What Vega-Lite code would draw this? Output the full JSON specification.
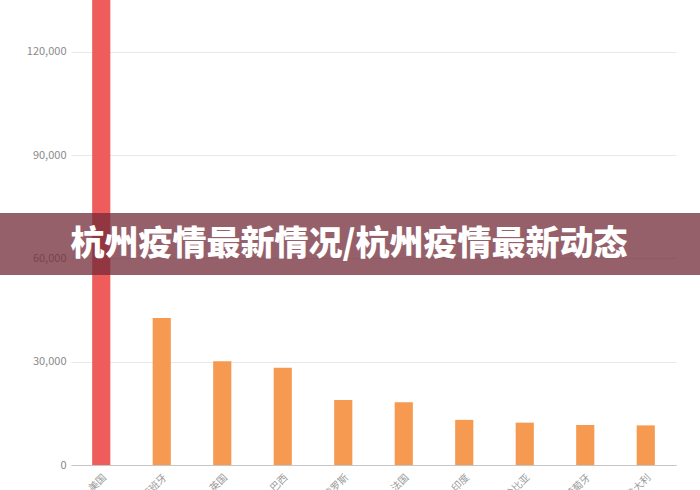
{
  "$schema": "https://vega.github.io/schema/vega-lite/v6.json",
  "autosize": "none",
  "width": 605,
  "height": 465,
  "padding": {"left": 71, "top": 0, "right": 24, "bottom": 25},
  "background": "white",
  "config": {
    "view": {"stroke": null},
    "axis": {"labelFont": "Noto Sans CJK SC", "labelColor": "#8a8a8a", "labelFontSize": 11}
  },
  "layer": [
    {
      "data": {
        "values": [
          {"country": "美国", "cases": 142000, "top": "yes"},
          {"country": "西班牙", "cases": 42700, "top": "no"},
          {"country": "英国", "cases": 30100, "top": "no"},
          {"country": "巴西", "cases": 28200, "top": "no"},
          {"country": "俄罗斯", "cases": 18900, "top": "no"},
          {"country": "法国", "cases": 18200, "top": "no"},
          {"country": "印度", "cases": 13100, "top": "no"},
          {"country": "哥伦比亚", "cases": 12300, "top": "no"},
          {"country": "葡萄牙", "cases": 11600, "top": "no"},
          {"country": "意大利", "cases": 11500, "top": "no"}
        ]
      },
      "mark": {"type": "bar", "clip": true},
      "encoding": {
        "x": {
          "field": "country",
          "type": "nominal",
          "sort": null,
          "scale": {"paddingInner": 0.7, "paddingOuter": 0.35},
          "axis": {
            "title": null,
            "labelAngle": -45,
            "ticks": false,
            "domainColor": "#c6c6c6",
            "labelPadding": 7,
            "labelFontSize": 10,
            "labelColor": "#9a9a9a"
          }
        },
        "y": {
          "field": "cases",
          "type": "quantitative",
          "scale": {"domain": [0, 135000], "nice": false},
          "axis": {
            "title": null,
            "values": [0, 30000, 60000, 90000, 120000],
            "format": ",.0f",
            "ticks": false,
            "domain": false,
            "gridColor": "#e8e8e8",
            "labelPadding": 5
          }
        },
        "color": {
          "field": "top",
          "type": "nominal",
          "scale": {"domain": ["yes", "no"], "range": ["#ee5c5c", "#f59a50"]},
          "legend": null
        }
      }
    },
    {
      "data": {"values": [{"label": "杭州疫情最新情况/杭州疫情最新动态", "lo": 55150, "hi": 73150, "mid": 63800}]},
      "layer": [
        {
          "mark": {"type": "rect", "color": "#732b38", "opacity": 0.75, "x": -71, "x2": 629},
          "encoding": {
            "y": {"field": "lo", "type": "quantitative"},
            "y2": {"field": "hi"}
          }
        },
        {
          "mark": {
            "type": "text",
            "color": "white",
            "font": "Noto Sans CJK SC",
            "fontWeight": 900,
            "fontSize": 34,
            "align": "center",
            "baseline": "middle",
            "x": 278
          },
          "encoding": {
            "y": {"field": "mid", "type": "quantitative"},
            "text": {"field": "label"}
          }
        }
      ]
    }
  ]
}
